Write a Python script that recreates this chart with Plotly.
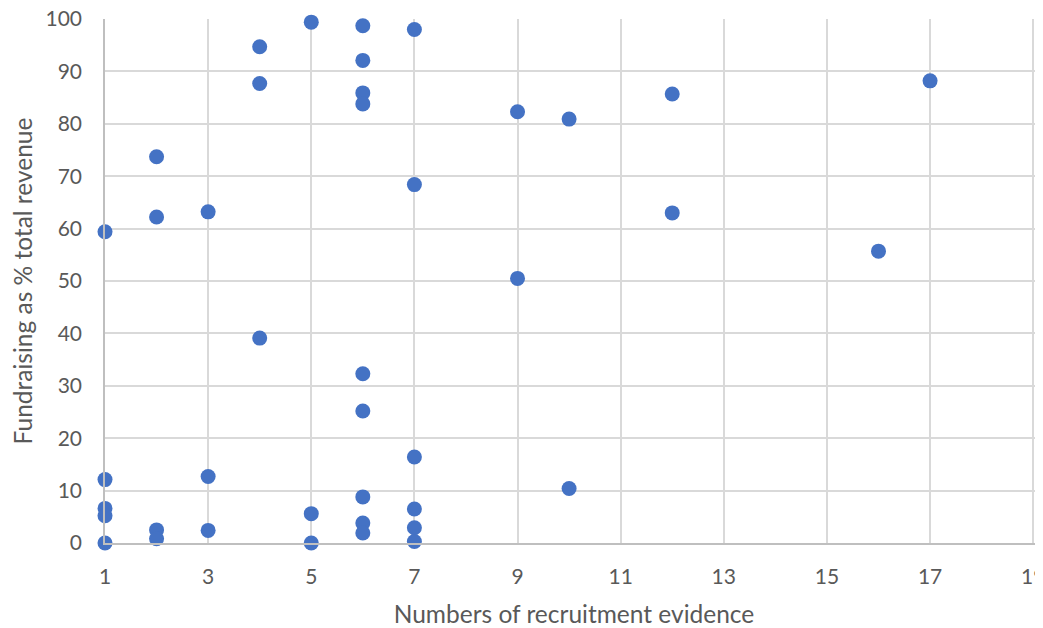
import plotly.graph_objects as go

recruitment_evidence = [
    1, 1, 1, 1, 1,
    2, 2, 2, 2,
    3, 3, 3,
    4, 4, 4,
    5, 5, 5,
    6, 6, 6, 6, 6, 6, 6, 6, 6,
    7, 7, 7, 7, 7, 7,
    9, 9,
    10, 10,
    12, 12,
    16,
    17,
]
fundraising_pct = [
    59.4, 12.1, 6.6, 5.2, 0.0,
    73.7, 62.2, 2.5, 0.8,
    63.2, 12.7, 2.4,
    94.7, 87.7, 39.1,
    99.4, 5.6, 0.0,
    98.7, 92.1, 85.9, 83.8, 32.3, 25.2, 8.8, 3.8, 1.9,
    98.0, 68.4, 16.4, 6.5, 2.9, 0.3,
    82.3, 50.5,
    80.9, 10.4,
    85.7, 63.0,
    55.7,
    88.2,
]

x_title = "Numbers of recruitment evidence"
y_title = "Fundraising as % total revenue"

FONT = "Lato, Calibri, Carlito, sans-serif"
TXT = "#595959"
GRID = "#d9d9d9"

# The page body has an 8px default margin, so the figure is sized to fit the
# 1043x628 window once that offset is taken into account.
fig = go.Figure(
    go.Scatter(
        x=recruitment_evidence,
        y=fundraising_pct,
        mode="markers",
        marker=dict(size=15, color="#4472C4", line=dict(width=0)),
        cliponaxis=False,
        showlegend=False,
    )
)

fig.update_layout(
    width=1035,
    height=620,
    margin=dict(l=97, r=0, t=11, b=85, autoexpand=False),
    paper_bgcolor="white",
    plot_bgcolor="white",
    font=dict(family=FONT, color=TXT),
)

fig.update_xaxes(
    range=[1, 19.19],
    tick0=1,
    dtick=2,
    automargin=False,
    showgrid=True,
    gridcolor=GRID,
    gridwidth=1.5,
    zeroline=False,
    showline=True,
    linecolor="#bfbfbf",
    linewidth=1.5,
    ticks="",
    ticklabelstandoff=14,
    ticklabeloverflow="allow",
    tickfont=dict(family=FONT, size=21, color=TXT),
    title=dict(text=x_title, font=dict(family=FONT, size=24.5, color=TXT), standoff=26),
)

fig.update_yaxes(
    range=[0, 100],
    tick0=0,
    dtick=10,
    automargin=False,
    showgrid=True,
    gridcolor=GRID,
    gridwidth=1.5,
    zeroline=False,
    showline=True,
    linecolor="#bfbfbf",
    linewidth=1.5,
    ticks="",
    ticklabelstandoff=17,
    ticklabeloverflow="allow",
    tickfont=dict(family=FONT, size=21, color=TXT),
    title=dict(text=y_title, font=dict(family=FONT, size=24.5, color=TXT), standoff=6),
)

fig.write_html("out.html")
